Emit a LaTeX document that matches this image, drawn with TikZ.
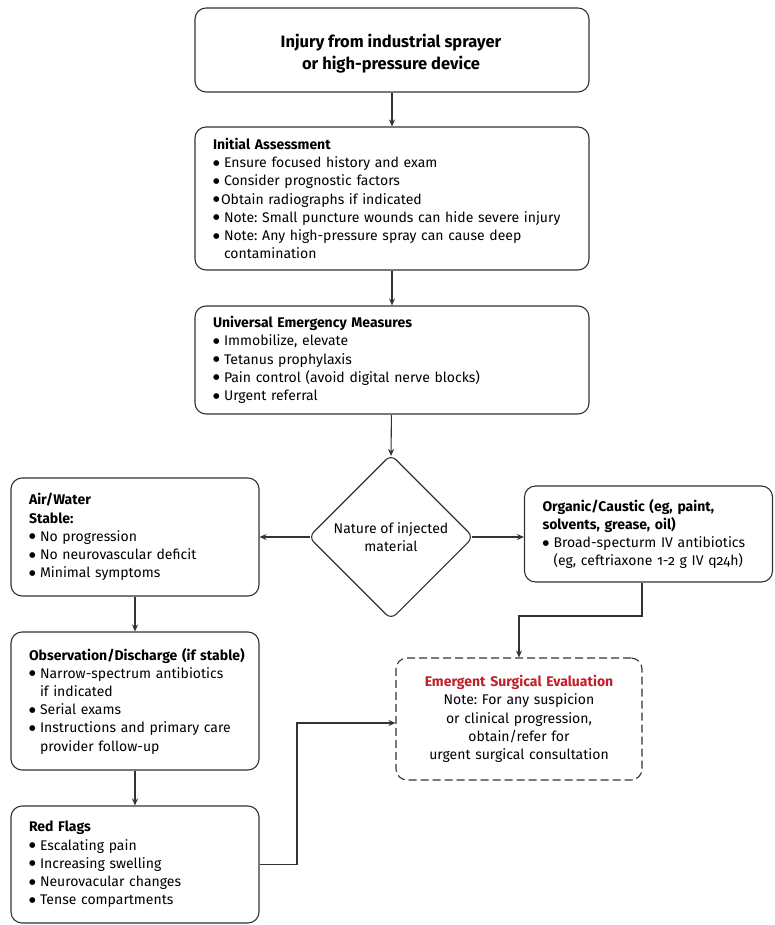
\documentclass[tikz,border=0pt]{standalone}
\usepackage{fontspec}
\setmainfont{Fira Sans}[Numbers=OldStyle]
\newfontfamily\dejavu{DejaVu Sans}
\usetikzlibrary{shapes.geometric,arrows.meta}
\definecolor{edge}{HTML}{333333}
\definecolor{redtxt}{HTML}{C0202A}
\newcommand{\bul}{\raisebox{2.4pt}{\dejavu\fontsize{7.5}{7.5}\selectfont ●}\hspace{1.5pt}}
\newcommand{\bl}{\makebox[11pt][l]{\bul}}
\newcommand{\ind}{\hspace*{11pt}}
\frenchspacing
\begin{document}
\begin{tikzpicture}[x=1pt,y=-1pt,
  box/.style={draw=edge, line width=1.1pt, rounded corners=11pt, inner xsep=18pt, inner ysep=0pt,
    font=\fontsize{14}{18.2}\selectfont, align=left},
  arr/.style={draw=edge, line width=1.1pt, -{Stealth[length=7pt,width=6pt]}}]
\useasboundingbox (0,0) rectangle (775,925);
\node[box, minimum width=394pt, minimum height=84pt] (top) at (392,50) {};
\node[align=center, inner sep=0pt, font=\fontsize{16.5}{22}\selectfont\bfseries] (toptext) at (391,54)
  {Injury from industrial sprayer\\or high-pressure device};
\node[box, minimum width=394pt, minimum height=143pt, text width=358pt] (init) at (392,198.5)
  {\textbf{Initial Assessment}\\
   \bl Ensure focused history and exam\\
   \bl Consider prognostic factors\\
   \bul Obtain radiographs if indicated\\
   \bl Note: Small puncture wounds can hide severe injury\\
   \bl Note: Any high-pressure spray can cause deep\\
   \ind contamination};
\node[box, minimum width=394pt, minimum height=108pt, text width=358pt] (univ) at (392,360)
  {\textbf{Universal Emergency Measures}\\
   \bl Immobilize, elevate\\
   \bl Tetanus prophylaxis\\
   \bl Pain control (avoid digital nerve blocks)\\
   \bl Urgent referral};
\node[draw=edge, line width=1.1pt, diamond, rounded corners=7pt, minimum width=165pt, minimum height=165pt,
  inner sep=0pt, align=center, font=\fontsize{14}{18.2}\selectfont] (dia) at (391,537)
  {Nature of injected\\material};
\node[box, minimum width=246pt, minimum height=118pt, text width=212pt] (air) at (135,537)
  {\textbf{Air/Water}\\
   \textbf{Stable:}\\
   \bl No progression\\
   \bl No neurovascular deficit\\
   \bl Minimal symptoms};
\node[box, minimum width=245pt, minimum height=96pt, text width=212pt] (org) at (648.5,534)
  {\textbf{Organic/Caustic (eg, paint,}\\
   \textbf{solvents, grease, oil)}\\
   \bl Broad-specturm IV antibiotics\\
   \ind (eg, ceftriaxone 1-2 g IV q24h)};
\node[box, minimum width=246pt, minimum height=138pt, text width=212pt] (obs) at (135,701)
  {\makebox[212pt][l]{\textbf{Observation/Discharge (if stable)}}\\
   \bl Narrow-spectrum antibiotics\\
   \ind if indicated\\
   \bl Serial exams\\
   \bl Instructions and primary care\\
   \ind provider follow-up};
\node[box, minimum width=246pt, minimum height=117pt, text width=212pt] (red) at (135,864.5)
  {\textbf{Red Flags}\\
   \bl Escalating pain\\
   \bl Increasing swelling\\
   \bl Neurovacular changes\\
   \bl Tense compartments};
\node[box, dashed, dash pattern=on 8pt off 4pt, align=center, minimum width=246pt, minimum height=122pt, text width=220pt,
  inner xsep=13pt] (emer) at (519,719)
  {\textcolor{redtxt}{\textbf{Emergent Surgical Evaluation}}\\
   Note: For any suspicion\\
   or clinical progression,\\
   obtain/refer for\\
   urgent surgical consultation};
\coordinate (c1) at (297,723);
\coordinate (c2) at (642,616);
\coordinate (dw) at ([xshift=2pt]dia.west);
\coordinate (de) at ([xshift=-2pt]dia.east);
\coordinate (dn) at ([yshift=-2pt]dia.north);
\draw[arr] (top) -- (init);
\draw[arr] (init) -- (univ);
\draw[arr] (univ) -- (dn);
\draw[arr] (dw) -- (air.east |- dw);
\draw[arr] (de) -- (org.west |- de);
\draw[arr] (air) -- (obs);
\draw[arr] (obs) -- (red);
\draw[arr] (red.east) -| (c1) -- (emer.west |- c1);
\draw[arr] (org.south -| c2) -- (c2) -| (emer.north);
\end{tikzpicture}
\end{document}
